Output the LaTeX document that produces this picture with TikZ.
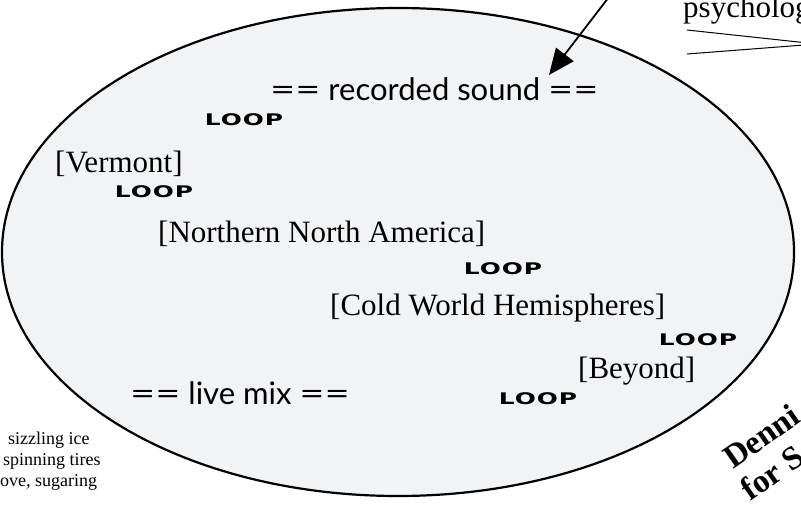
\documentclass[tikz,border=0pt]{standalone}
\usepackage{graphicx}
\usepackage{fontspec}
\setmainfont{Liberation Serif}
\newfontfamily\mixfont{Lato}
\newfontfamily\loopfont[LetterSpace=4]{DejaVu Sans}
\usetikzlibrary{arrows.meta}
\definecolor{blobgray}{RGB}{242,243,245}
\newcommand{\weq}{\scalebox{1.4}[1]{=}}
\tikzset{
  region/.style={anchor=base west, inner sep=0pt, font=\fontsize{31}{36}\selectfont},
  looplbl/.style={inner sep=0pt, xscale=1.55, font=\loopfont\bfseries\fontsize{16}{16}\selectfont},
  mixlbl/.style={anchor=base west, inner sep=0pt, font=\mixfont\fontsize{31}{36}\selectfont},
  margin/.style={anchor=base west, inner sep=0pt, font=\fontsize{18}{20}\selectfont},
  byline/.style={anchor=base west, inner sep=0pt, rotate=35, font=\bfseries\fontsize{33}{36}\selectfont},
}

\begin{document}
\begin{tikzpicture}[x=1pt,y=-1pt]
	\useasboundingbox (0,0) rectangle (801,508);
	\clip (0,0) rectangle (801,508);
	%the blob
	\draw[line width=2.2pt, fill=blobgray] (398,252) ellipse [x radius=396, y radius=244];
	%sound layers
	\node[mixlbl] (rec) at (270,101) {\weq\weq\ recorded sound \weq\weq};
	\node[mixlbl] (live) at (130,404) {\weq\weq\ live mix \weq\weq};
	%places
	\node[region] (vt) at (55,173) {[Vermont]};
	\node[region] (nna) at (158,242) {[Northern North America]};
	\node[region] (cwh) at (330,315) {[Cold World Hemispheres]};
	\node[region] (bey) at (578,378) {[Beyond]};
	%loops
	\node[looplbl] (l1) at (244,120) {LOOP};
	\node[looplbl] (l2) at (154,192) {LOOP};
	\node[looplbl] (l3) at (503,269) {LOOP};
	\node[looplbl] (l4) at (698,340) {LOOP};
	\node[looplbl] (l5) at (538,399) {LOOP};
	%outside
	\node[region] (psy) at (683,18) {psycholog};
	\coordinate (src) at (622,-20);
	\coordinate (hit) at (549,75);
	\draw[line width=1.8pt, -{Triangle[length=26pt,width=22pt]}] (src) -- (hit);
	\coordinate (wa) at (687,30);
	\coordinate (wb) at (687,54);
	\coordinate (wc) at (817,44);
	\draw[line width=1pt] (wa) -- (wc) -- (wb);
	\node[margin] (ice) at (8,444) {sizzling ice};
	\node[margin] (tires) at (3,465) {spinning tires};
	\node[margin] (sug) at (0,486) {ove, sugaring};
	\node[byline] (who) at (733,470) {Denni};
	\node[byline] (for) at (750,502) {for S};
\end{tikzpicture}
\end{document}
